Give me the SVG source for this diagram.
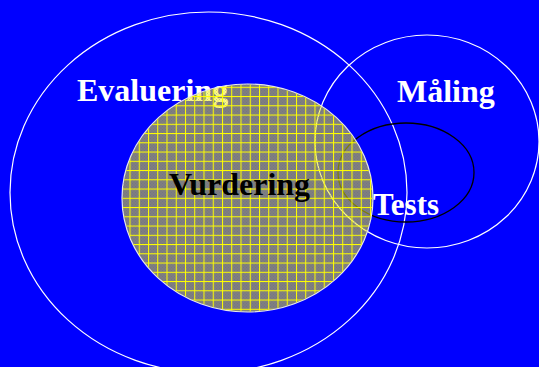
<svg xmlns="http://www.w3.org/2000/svg" width="539" height="367" viewBox="0 0 539 367">
  <style>
    .ring { fill: none; stroke: #ffffff; stroke-width: 1.2; }
    .lbl { font-family: "Liberation Serif", "Times New Roman", serif; font-weight: bold; font-size: 32px; }
    .white { fill: #ffffff; }
    .black { fill: #000000; }
  </style>
  <defs>
    <pattern id="grid" patternUnits="userSpaceOnUse" x="203.5" y="197.8" width="9.25" height="9.25">
      <rect x="0" y="0" width="1" height="9.25" fill="#ffff00"/>
      <rect x="0" y="0" width="9.25" height="1" fill="#ffff00"/>
    </pattern>
    <pattern id="dots" patternUnits="userSpaceOnUse" width="3" height="3">
      <rect x="0" y="0" width="1" height="1" fill="#5a5a9a" opacity="0.35"/>
      <rect x="1.5" y="1.5" width="1" height="1" fill="#5a5a9a" opacity="0.35"/>
    </pattern>
  </defs>
  <rect x="0" y="0" width="539" height="367" fill="#0000ff"/>

  <g id="evaluering">
    <ellipse class="ring" cx="208.5" cy="192.5" rx="198.5" ry="180.5"/>
    <text class="lbl white" x="77" y="101">Evaluering</text>
  </g>

  <g id="maling">
    <ellipse class="ring" cx="427" cy="141.5" rx="112" ry="106.5"/>
    <text class="lbl white" x="397" y="102">Måling</text>
  </g>

  <g id="tests-ring">
    <ellipse cx="406" cy="172.5" rx="68" ry="49.5" fill="none" stroke="#000000" stroke-width="1.3"/>
  </g>

  <g id="vurdering">
    <ellipse cx="247.5" cy="198" rx="125.5" ry="114" fill="#ffff00" fill-opacity="0.5" stroke="#e8e8e8" stroke-width="1.2"/>
    <ellipse cx="247.5" cy="198" rx="125" ry="113.5" fill="url(#dots)"/>
    <ellipse cx="247.5" cy="198" rx="125" ry="113.5" fill="url(#grid)"/>
    <text class="lbl black" x="169" y="195">Vurdering</text>
  </g>

  <g id="tests">
    <text class="lbl white" x="373" y="215" style="font-size:31px">Tests</text>
  </g>
</svg>
